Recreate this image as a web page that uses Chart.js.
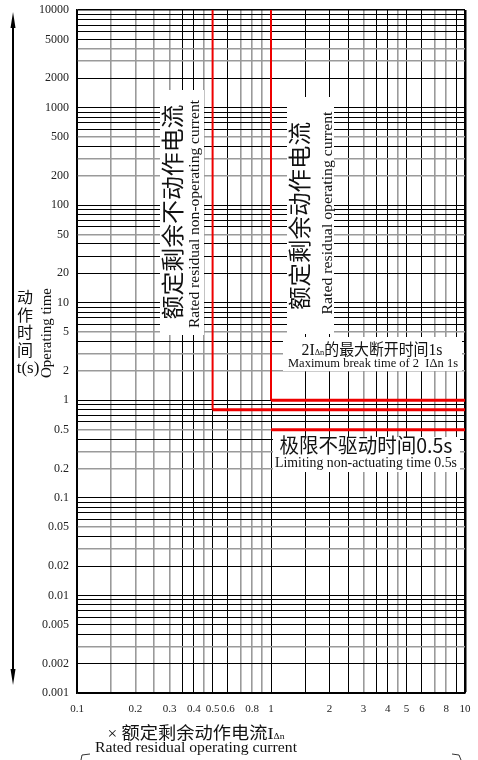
<!DOCTYPE html>
<html>
<head>
<meta charset="utf-8">
<script src="https://cdn.jsdelivr.net/npm/chart.js@4.4.1/dist/chart.umd.min.js"></script>
<style>
    html, body { margin: 0; padding: 0; background: #fff; }
    #wrap { width: 478px; height: 760px; }
</style>
</head>
<body>
<div id="wrap"><canvas id="trip-curve" width="478" height="760"></canvas></div>
<script>
// tick labels
const xLabels = [0.1, 0.2, 0.3, 0.4, 0.5, 0.6, 0.8, 1, 2, 3, 4, 5, 6, 8, 10];
const yLabels = [0.001, 0.002, 0.005, 0.01, 0.02, 0.05, 0.1, 0.2, 0.5, 1, 2, 5,
    10, 20, 50, 100, 200, 500, 1000, 2000, 5000, 10000];

// paper grid lines
const xGrid = [0.1, 0.15, 0.2, 0.25, 0.3, 0.35, 0.4, 0.45, 0.5, 0.6, 0.7, 0.8, 0.9,
    1, 1.5, 2, 2.5, 3, 3.5, 4, 4.5, 5, 6, 7, 8, 9, 10];
const xGridGray = [0.15, 0.2, 0.25, 0.3, 0.45, 0.7, 0.8, 0.9, 3, 4.5, 7, 8];
const yGrid = [
    0.001, 0.002, 0.003, 0.004, 0.005, 0.006, 0.007, 0.008, 0.009,
    0.01, 0.02, 0.03, 0.04, 0.05, 0.06, 0.07, 0.08, 0.09,
    0.1, 0.2, 0.3, 0.4, 0.5, 0.6, 0.7, 0.8, 0.9,
    1, 2, 3, 4, 5, 6, 7, 8, 9,
    10, 20, 30, 40, 50, 60, 70, 80, 90,
    100, 200, 300, 400, 500, 600, 700, 800, 900,
    1000, 2000, 3000, 4000, 5000, 6000, 7000, 8000, 9000,
    10000,
];
const yGridGray = [4000, 3000, 500, 300, 200, 50, 5, 3, 2, 0.5, 0.3, 0.2, 0.05, 0.03, 0.003];

// red limit lines (corner points)
const nonOpX = [0.5, 0.5, 10];
const nonOpY = [10000, 0.8, 0.8];
const breakX = [1, 1, 10];
const breakY = [10000, 1, 1];
const limitX = [1, 10];
const limitY = [0.5, 0.5];

const SERIF = "'Liberation Serif', 'DejaVu Serif', serif";
const CJK = "'Noto Sans CJK SC', sans-serif";

const toPoints = (xs, ys) => xs.map((x, i) => ({ x: x, y: ys[i] }));

// draw a row of text pieces centred on (x, y), squeezed to a given width
function textRun(ctx, parts, x, y, width, angle) {
    ctx.save();
    ctx.translate(x, y);
    if (angle) ctx.rotate(angle);
    let total = 0;
    parts.forEach((p) => {
        ctx.font = p.font;
        p.w = ctx.measureText(p.text).width;
        total += p.w;
    });
    if (width) ctx.scale(width / total, 1);
    ctx.textBaseline = "alphabetic";
    ctx.textAlign = "left";
    ctx.fillStyle = "#111";
    let cx = -total / 2;
    parts.forEach((p) => {
        ctx.font = p.font;
        ctx.fillText(p.text, cx, p.dy || 0);
        cx += p.w;
    });
    ctx.restore();
}

const paperNotes = {
    id: "paperNotes",
    beforeDatasetsDraw(chart) {
        const ctx = chart.ctx;
        ctx.save();
        // white label boxes on top of the grid
        ctx.fillStyle = "#fff";
        ctx.fillRect(160, 90, 44, 245);
        ctx.fillRect(287, 97, 47, 237);
        ctx.fillRect(283, 337, 179, 34);
        ctx.fillRect(273, 437, 187, 35);

        const up = -Math.PI / 2;
        textRun(ctx, [{ text: "额定剩余不动作电流", font: "23px " + CJK }], 181, 212, 215, up);
        textRun(ctx, [{ text: "Rated residual non-operating current", font: "14px " + SERIF }], 199, 214, 228, up);
        textRun(ctx, [{ text: "额定剩余动作电流", font: "23px " + CJK }], 308, 216, 188, up);
        textRun(ctx, [{ text: "Rated residual operating current", font: "14px " + SERIF }], 332, 213, 203, up);

        textRun(ctx, [
            { text: "2I", font: "17px " + SERIF },
            { text: "Δn", font: "9px " + SERIF, dy: 0 },
            { text: "的最大断开时间", font: "16px " + CJK },
            { text: "1s", font: "17px " + SERIF },
        ], 372, 355, 141);
        textRun(ctx, [{ text: "Maximum break time of 2  IΔn 1s", font: "12px " + SERIF }], 373, 367, 170);

        textRun(ctx, [
            { text: "极限不驱动时间", font: "20px " + CJK },
            { text: "0.5s", font: "20px " + CJK },
        ], 366, 453, 173);
        textRun(ctx, [{ text: "Limiting non-actuating time 0.5s", font: "14px " + SERIF }], 366, 467, 182);
        ctx.restore();
    },
    afterDraw(chart) {
        const ctx = chart.ctx;
        ctx.save();
        // double arrow on the left
        ctx.strokeStyle = "#000";
        ctx.fillStyle = "#000";
        ctx.lineWidth = 2;
        ctx.beginPath();
        ctx.moveTo(13, 20);
        ctx.lineTo(13, 676);
        ctx.stroke();
        ctx.beginPath();
        ctx.moveTo(13, 12);
        ctx.lineTo(15.5, 28);
        ctx.lineTo(10.5, 28);
        ctx.closePath();
        ctx.fill();
        ctx.beginPath();
        ctx.moveTo(13, 685);
        ctx.lineTo(15.5, 669);
        ctx.lineTo(10.5, 669);
        ctx.closePath();
        ctx.fill();

        // y axis title
        ctx.fillStyle = "#111";
        ctx.font = "16px " + CJK;
        ctx.textAlign = "center";
        ctx.textBaseline = "middle";
        ["动", "作", "时", "间"].forEach((ch, i) => {
            ctx.fillText(ch, 25, 297 + i * 17.5);
        });
        ctx.font = "17px " + SERIF;
        ctx.fillText("t(s)", 28, 369);
        textRun(ctx, [{ text: "Operating time", font: "14px " + SERIF }], 51, 333, 90, -Math.PI / 2);

        // x axis title
        textRun(ctx, [
            { text: "× ", font: "16px " + SERIF },
            { text: "额定剩余动作电流", font: "17px " + CJK },
            { text: "I", font: "17px " + SERIF },
            { text: "Δn", font: "9px " + SERIF },
        ], 196, 739, 177);
        textRun(ctx, [{ text: "Rated residual operating current", font: "15px " + SERIF }], 196, 752, 202);

        // corner marks at the page bottom
        ctx.strokeStyle = "#333";
        ctx.lineWidth = 1;
        ctx.beginPath();
        ctx.moveTo(81, 760);
        ctx.lineTo(82, 755);
        ctx.lineTo(90, 754);
        ctx.moveTo(461, 760);
        ctx.lineTo(459, 755);
        ctx.lineTo(452, 754);
        ctx.stroke();
        ctx.restore();
    },
};

const redLine = {
    borderColor: "#ee0000",
    borderWidth: 3,
    pointRadius: 0,
    fill: false,
    tension: 0,
    segment: {
        borderWidth: (c) => (c.p0.parsed.x === c.p1.parsed.x ? 2 : 3),
    },
};

const ctx = document.getElementById("trip-curve").getContext("2d");
const chart = new Chart(ctx, {
    type: "line",
    data: {
        datasets: [
            { label: "non-operating", data: toPoints(nonOpX, nonOpY), ...redLine },
            { label: "break time", data: toPoints(breakX, breakY), ...redLine },
            { label: "non-actuating", data: toPoints(limitX, limitY), ...redLine },
        ],
    },
    options: {
        responsive: false,
        animation: false,
        events: [],
        layout: {
            padding: { top: 10, right: 13, left: 0, bottom: 0 },
        },
        scales: {
            x: {
                type: "logarithmic",
                min: 0.1,
                max: 10,
                afterBuildTicks: (s) => {
                    s.ticks = xGrid.map((v) => ({ value: v }));
                },
                afterFit: (s) => {
                    s.height = 67;
                    s.paddingLeft = 0;
                    s.paddingRight = 0;
                },
                ticks: {
                    autoSkip: false,
                    maxRotation: 0,
                    padding: 10,
                    color: "#222",
                    font: { family: SERIF, size: 11 },
                    callback: (v) => (xLabels.includes(v) ? String(v) : ""),
                },
                grid: {
                    drawTicks: false,
                    color: (c) => (c.tick && xGridGray.includes(c.tick.value) ? "#9a9a9a" : "#000"),
                    lineWidth: (c) => {
                        if (!c.tick) return 1;
                        if (c.tick.value === 10) return 2.5;
                        return xGridGray.includes(c.tick.value) ? 1.6 : 1;
                    },
                },
                border: { display: true, color: "#000", width: 1.5 },
            },
            y: {
                type: "logarithmic",
                min: 0.001,
                max: 10000,
                afterBuildTicks: (s) => {
                    s.ticks = yGrid.map((v) => ({ value: v }));
                },
                afterFit: (s) => {
                    s.width = 77;
                    s.paddingTop = 0;
                    s.paddingBottom = 0;
                },
                ticks: {
                    autoSkip: false,
                    padding: 8,
                    color: "#222",
                    font: { family: SERIF, size: 12 },
                    callback: (v) => (yLabels.includes(v) ? String(v) : ""),
                },
                grid: {
                    drawTicks: false,
                    color: (c) => (c.tick && yGridGray.includes(c.tick.value) ? "#9a9a9a" : "#000"),
                    lineWidth: (c) => {
                        if (!c.tick) return 1;
                        if (c.tick.value === 10000) return 1.5;
                        return yGridGray.includes(c.tick.value) ? 1.6 : 1;
                    },
                },
                border: { display: true, color: "#000", width: 1.5 },
            },
        },
        plugins: {
            legend: { display: false },
            tooltip: { enabled: false },
        },
    },
    plugins: [paperNotes],
});
</script>
</body>
</html>
